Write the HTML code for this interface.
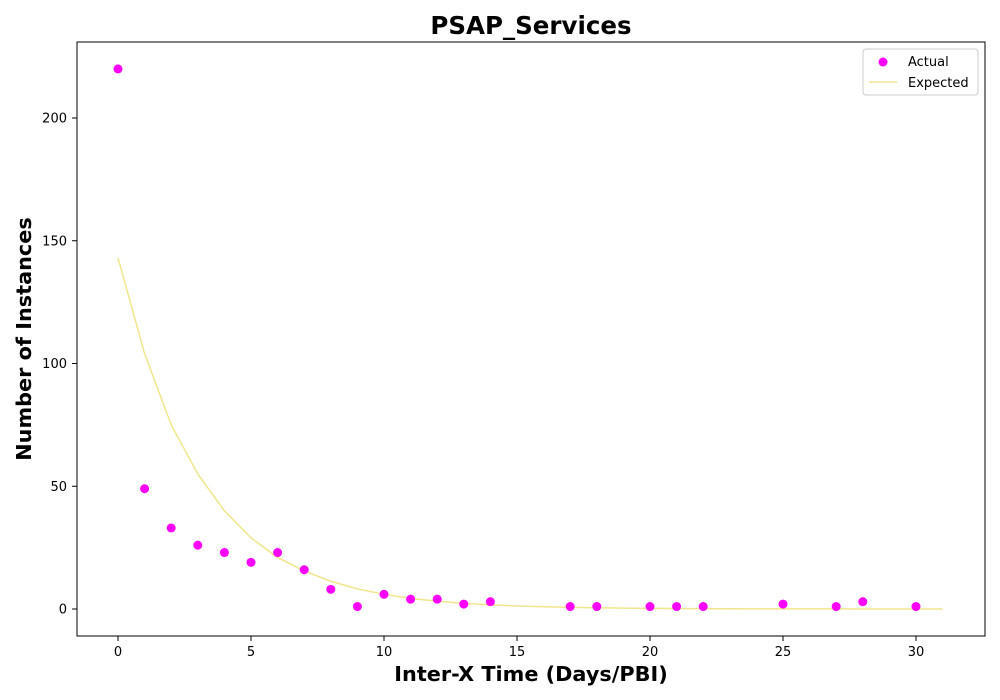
<!DOCTYPE html>
<html><head><meta charset="utf-8"><style>
body{margin:0;background:#fff;}
svg{display:block;font-family:"DejaVu Sans","Liberation Sans",sans-serif;}
</style></head><body>
<svg id="chart" width="1000" height="700">
<rect x="77" y="42" width="908" height="594" fill="none" stroke="#000" stroke-width="1"/>
<text x="531" y="34" text-anchor="middle" font-size="24.5" font-weight="bold">PSAP_Services</text>
<text x="531" y="681" text-anchor="middle" font-size="20.8" font-weight="bold">Inter-X Time (Days/PBI)</text>
<text transform="translate(31,339) rotate(-90)" text-anchor="middle" font-size="20.8" font-weight="bold">Number of Instances</text>
<g id="axes"></g>
<g id="marks"></g>
<g>
<rect x="863" y="49" width="115" height="46" fill="#fff" stroke="#ccc" rx="3"/>
<circle cx="883" cy="62" r="4.5" fill="#ff00ff"/>
<text x="908" y="66" font-size="13">Actual</text>
<line x1="869" y1="82" x2="897" y2="82" stroke="#f0e68c" stroke-width="1.5"/>
<text x="908" y="87" font-size="13">Expected</text>
</g>
</svg>
<script>
const actualX=[0,1,2,3,4,5,6,7,8,9,10,11,12,13,14,17,18,20,21,22,25,27,28,30];
const actualY=[220,49,33,26,23,19,23,16,8,1,6,4,4,2,3,1,1,1,1,1,2,1,3,1];
const expectedX=[0,1,2,3,4,5,6,7,8,9,10,11,12,13,14,15,16,17,18,19,20,21,22,23,24,25,26,27,28,29,30,31];
const expectedY=[143,104,75,55,40,29,21,15.5,11.3,8.2,6,4.3,3.2,2.3,1.7,1.2,0.9,0.65,0.5,0.35,0.25,0.18,0.13,0.1,0.07,0.05,0.04,0.03,0.02,0.015,0.01,0.008];
const xTicks=[0,5,10,15,20,25,30];
const yTicks=[0,50,100,150,200];
const NS="http://www.w3.org/2000/svg";
function sx(v){return 118+v*(916-118)/30;}
function sy(v){return 609-v*(609-118)/200;}
const axes=document.getElementById('axes'), marks=document.getElementById('marks');
function mk(tag,attrs,parent){const e=document.createElementNS(NS,tag);for(const k in attrs)e.setAttribute(k,attrs[k]);parent.appendChild(e);return e;}
xTicks.forEach(t=>{
  const l=mk('line',{x1:sx(t),x2:sx(t),y1:636,y2:641,stroke:'#000'},axes);
  
  
  const tx=mk('text',{x:sx(t),y:656,'text-anchor':'middle','font-size':13},axes);
  tx.textContent=t;
  
  
});
yTicks.forEach(t=>{
  const l=mk('line',{x1:72,x2:77,y1:sy(t),y2:sy(t),stroke:'#000'},axes);
  
  
  const tx=mk('text',{x:67,y:sy(t)+4.5,'text-anchor':'end','font-size':13},axes);
  tx.textContent=t;
  
  
});
const pts=expectedX.map((x,i)=>sx(x)+','+sy(expectedY[i])).join(' ');
const pl=mk('polyline',{points:pts,fill:'none',stroke:'#f0e68c','stroke-width':1.5},marks);


actualX.forEach((x,i)=>{
  const c=mk('circle',{cx:sx(x),cy:sy(actualY[i]),r:4.5,fill:'#ff00ff'},marks);
  
  
});
</script>
</body></html>
